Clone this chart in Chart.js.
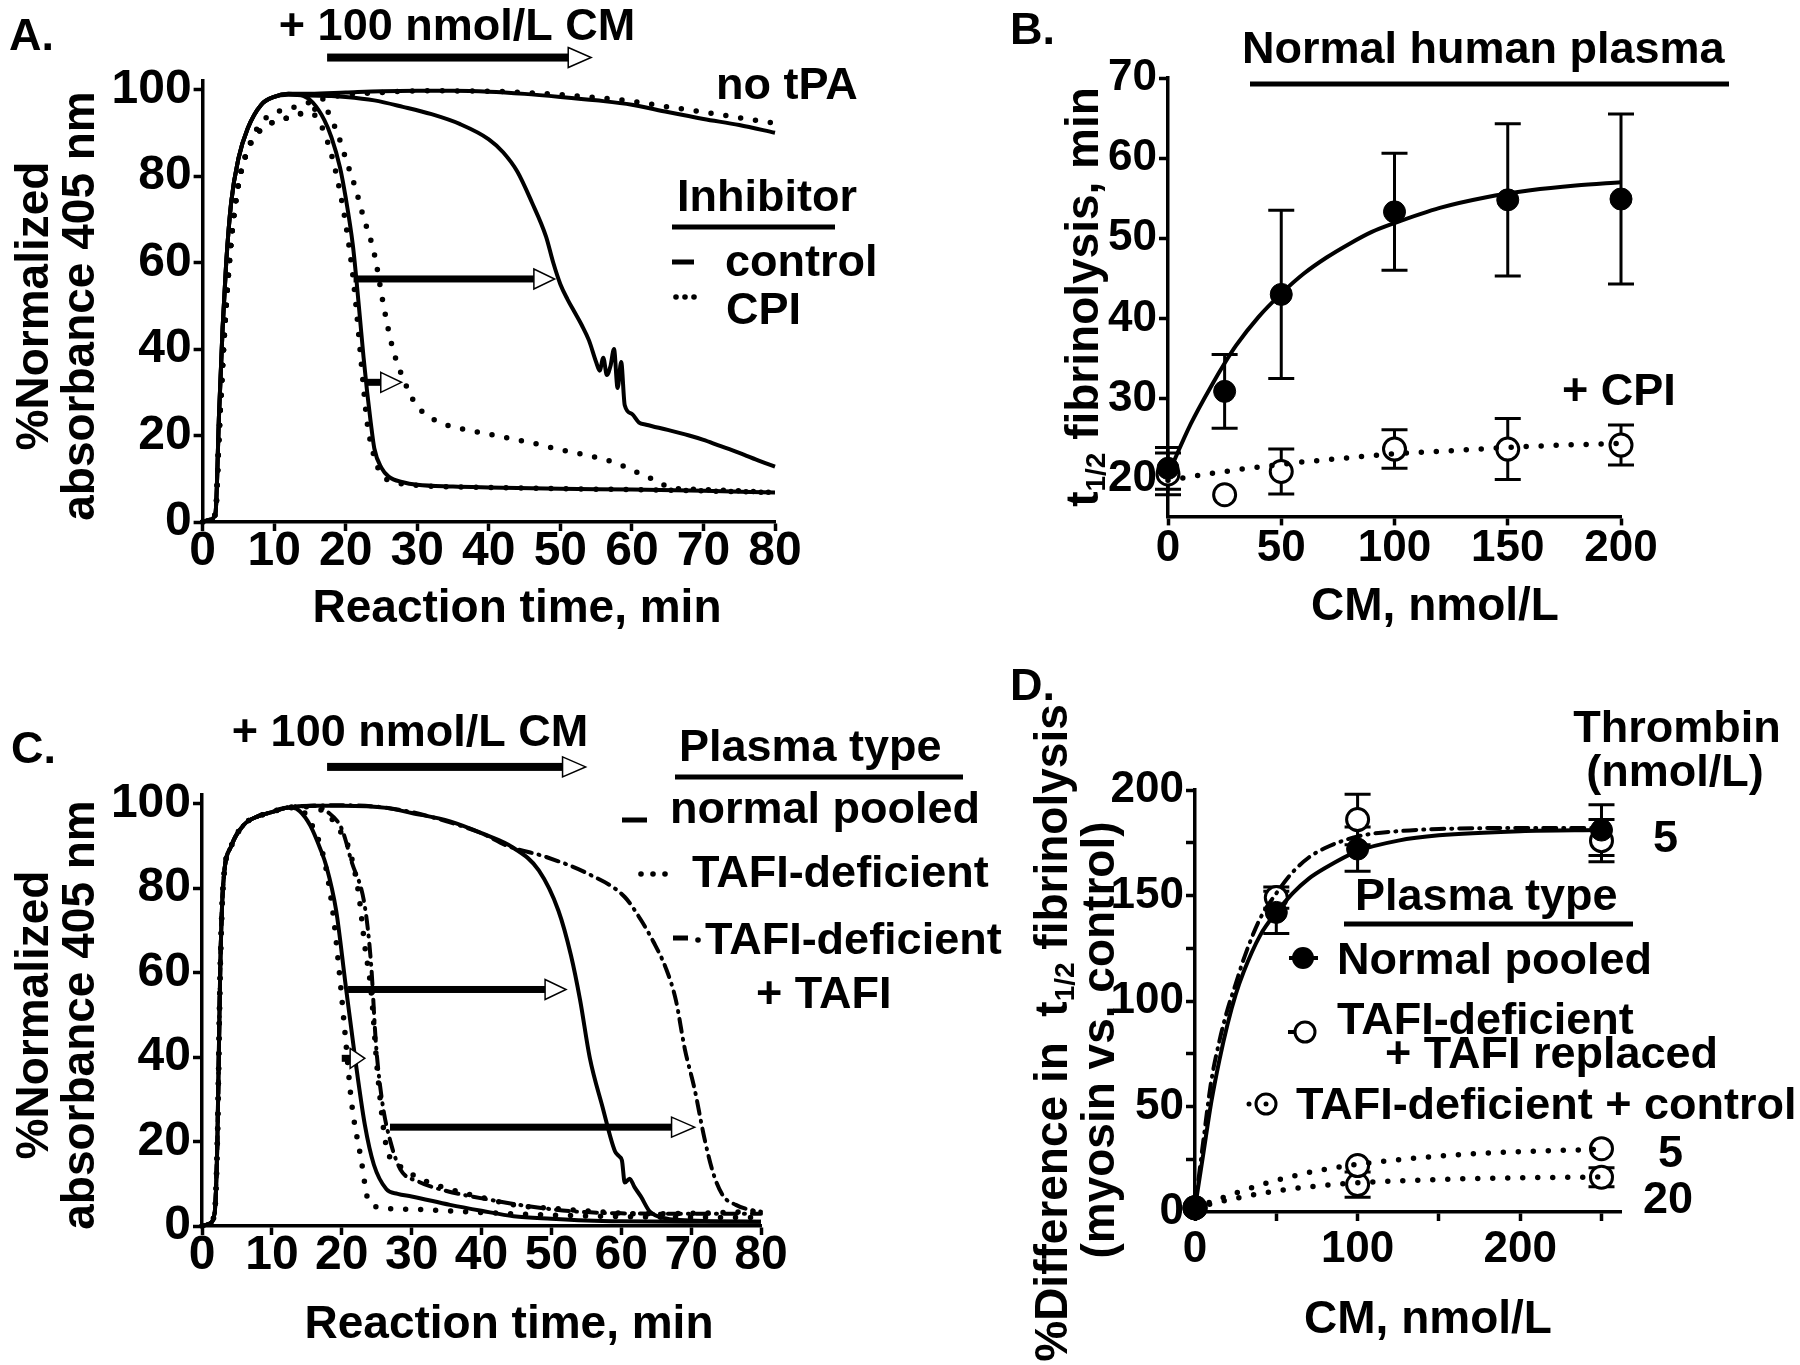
<!DOCTYPE html>
<html>
<head>
<meta charset="utf-8">
<script src="https://cdn.jsdelivr.net/npm/chart.js@4.4.1/dist/chart.umd.min.js"></script>
<style>
  body { margin: 0; background: #fff; }
  #wrap { position: relative; width: 1800px; height: 1365px; background: #fff; }
  #wrap canvas { position: absolute; left: 0; top: 0; }
</style>
</head>
<body>
<div id="wrap">
  <canvas id="chartA" width="1800" height="1365"></canvas>
  <canvas id="chartB" width="1800" height="1365"></canvas>
  <canvas id="chartC" width="1800" height="1365"></canvas>
  <canvas id="chartD" width="1800" height="1365"></canvas>
</div>
<script>
// ---------- Panel A: turbidity curves, normal human plasma ----------
const aTicksX = [0, 10, 20, 30, 40, 50, 60, 70, 80];
const aTicksY = [0, 20, 40, 60, 80, 100];

const aNoTpaCtrlX = [0, 1, 1.8, 2.3, 2.8, 3.3, 4, 5, 6.3, 8.2, 10, 12, 15, 20, 25, 30, 35, 40, 45, 50, 55, 60, 65, 70, 75, 80];
const aNoTpaCtrlY = [0, 0.5, 2, 25, 45, 60, 74, 84, 91, 96.5, 98.3, 99, 99, 99.3, 99.6, 99.7, 99.7, 99.5, 99, 98.3, 97.5, 96.5, 94.8, 93.2, 91.8, 90];
const aNoTpaCpiX = [0, 1, 1.8, 2.3, 3, 4, 5, 6.3, 8, 10, 13, 16, 20, 25, 30, 40, 50, 60, 65, 70, 75, 80];
const aNoTpaCpiY = [0, 0.5, 2, 20, 42, 65, 78, 86, 92, 94.5, 96, 97.5, 98.8, 99.3, 99.7, 99.6, 98.8, 97.3, 96, 94.8, 93.5, 92.2];

const aCtrlX = [0, 1, 1.8, 2.3, 2.8, 3.3, 4, 5, 6.3, 8.2, 10, 12, 14, 15.4, 17, 18, 19.2, 20, 21, 21.5, 22, 22.5, 23, 23.5, 24, 25, 26, 28, 30, 35, 40, 50, 60, 70, 80];
const aCtrlY = [0, 0.5, 2, 25, 45, 60, 74, 84, 91, 96.5, 98.3, 99, 98.6, 97, 93, 89, 82, 75, 64, 56, 47, 38, 30, 23, 17, 12.5, 10.5, 9.2, 8.6, 8.2, 8, 7.7, 7.5, 7.2, 6.8];
const aCpiX = [0, 1, 1.8, 2.3, 3, 4, 5, 6.3, 8.3, 10, 12, 14, 15, 16, 17, 18, 19, 20, 21, 21.5, 22, 22.5, 23, 24, 25, 27, 30, 40, 50, 60, 70, 80];
const aCpiY = [0, 0.5, 2, 20, 42, 65, 78, 86, 91, 92.5, 93.5, 94.5, 94.5, 93.5, 90, 85, 78, 69, 57, 49, 40, 31, 23, 15, 11, 9.2, 8.5, 8, 7.7, 7.5, 7.2, 6.8];

const aCtrlCmX = [0, 1, 1.8, 2.3, 2.8, 3.3, 4, 5, 6.3, 8.2, 10, 12, 15, 18, 20, 24, 28, 32, 36, 40, 42, 44, 46, 48, 49, 50, 51, 52, 53, 54, 55, 55.5, 56, 56.5, 57, 57.5, 58, 58.5, 59, 60, 61, 62, 65, 68, 70, 72, 75, 78, 80];
const aCtrlCmY = [0, 0.5, 2, 25, 45, 60, 74, 84, 91, 96.5, 98.3, 98.8, 98.6, 98.5, 98.3, 97.5, 96, 94.3, 92, 88.5, 85.5, 81, 74, 66, 60, 55, 51.5, 48.5, 45.5, 42, 37, 35, 38, 34, 36, 40, 31, 37, 27, 25, 23, 22.5, 21.3, 20, 19, 17.8, 16, 14, 12.8];
const aCpiCmX = [0, 1, 1.8, 2.3, 3, 4, 5, 6.3, 8.3, 10, 12, 14, 16, 17, 18.7, 20.2, 21.4, 22.4, 24, 25.3, 26.5, 28.1, 29.8, 32, 34, 37, 41, 46, 50, 54, 57.5, 60, 61.6, 63, 64.4, 66, 70, 75, 80];
const aCpiCmY = [0, 0.5, 2, 20, 42, 65, 78, 86, 91, 92.5, 93.5, 94.5, 95.5, 95.5, 90.5, 83, 77, 71, 62, 50, 40.6, 32.9, 27.2, 24, 22.5, 21.3, 20, 18.3, 16.7, 15.3, 13.8, 12, 10.9, 9.8, 8.6, 7.8, 7.5, 7.2, 6.8];

// arrows: [start, head start, tip, y] in data units
const aArrows = [[17.4, 51.1, 54.3, 107.4], [21.1, 46.3, 49.2, 56.2], [22.7, 24.9, 27.8, 32.3]];

// ---------- Panel B: t1/2 vs CM ----------
const bTicksX = [0, 50, 100, 150, 200];
const bTicksY = [20, 30, 40, 50, 60, 70];
const bCM = [0, 25, 50, 100, 150, 200];
const bControl = [21.3, 30.9, 43.0, 53.3, 54.8, 54.9];
const bControlErr = [2.6, 4.6, 10.5, 7.3, 9.5, 10.6];
const bCpi = [20.6, 18.0, 20.9, 23.7, 23.7, 24.2];
const bCpiErr = [2.6, 0, 2.8, 2.4, 3.8, 2.5];
const bFitX = [0, 10, 20, 25, 30, 40, 50, 60, 70, 80, 90, 100, 120, 140, 160, 180, 200];
const bFitControl = [20.5, 26.8, 32.0, 34.4, 36.6, 40.2, 43.1, 45.6, 47.6, 49.3, 50.8, 51.9, 53.8, 55.1, 56.0, 56.6, 57.0];
const bFitCpiX = [0, 25, 50, 75, 100, 125, 150, 175, 200];
const bFitCpi = [19.8, 20.9, 21.8, 22.5, 23.1, 23.5, 23.9, 24.2, 24.4];

// ---------- Panel C: turbidity curves by plasma type ----------
const cTicksX = [0, 10, 20, 30, 40, 50, 60, 70, 80];
const cTicksY = [0, 20, 40, 60, 80, 100];
const cNormCtrlX = [0, 1, 1.8, 2.2, 2.6, 3, 4.2, 6, 8, 10, 12, 13, 14, 15.5, 17, 17.8, 19.2, 20.5, 21.9, 23.3, 24.6, 26.4, 28, 30, 35.5, 40, 44.6, 50, 55, 60, 70, 80];
const cNormCtrlY = [0, 0.5, 3, 20, 60, 80, 90, 95, 97, 98, 99, 99, 98.2, 94.8, 89, 85.2, 74.7, 57.8, 39.9, 24, 14.5, 8.7, 7.6, 7, 5, 3.6, 2.3, 1.7, 1.3, 1.1, 1, 1];
const cNormCmX = [0, 1, 1.8, 2.2, 2.6, 3, 4.2, 6, 8, 10, 12, 16, 20, 26.4, 30, 35.5, 40, 44.6, 48.2, 51, 52.8, 54.1, 55.5, 57.3, 59.1, 59.7, 60.1, 60.5, 61.2, 61.9, 62.8, 64.1, 66.4, 70, 80];
const cNormCmY = [0, 0.5, 3, 20, 60, 80, 90, 95, 97, 98, 99, 99.5, 99.5, 99, 97.8, 95.8, 93, 89.5, 84.2, 74.7, 64.1, 53.6, 39.8, 28.3, 17.7, 16.5, 15.5, 10.3, 11.2, 9.2, 7, 3.4, 1.8, 1.3, 1];
const cTafiCtrlX = [0, 1, 1.8, 2.2, 2.6, 3, 4.2, 6, 8, 10, 12, 13, 14.6, 16, 17.4, 18.7, 19.6, 20.5, 21.4, 22.8, 23.7, 24.6, 26.4, 31, 40, 50, 60, 80];
const cTafiCtrlY = [0, 0.5, 3, 20, 60, 80, 90, 95, 97, 98, 99, 99, 98, 94, 87.4, 74.7, 61, 45.1, 29.3, 15.5, 6.5, 4.8, 4.2, 3.9, 3.2, 2.6, 2.2, 2];
const cTafiCmX = [0, 1, 1.8, 2.2, 2.6, 3, 4.2, 6, 8, 10, 12, 14, 16, 18, 19.2, 21, 22.4, 23.3, 24.2, 25.1, 26.4, 27.8, 31, 35.5, 40, 44.6, 50, 55, 62.8, 70, 80];
const cTafiCmY = [0, 0.5, 3, 20, 60, 80, 90, 95, 97, 98, 99, 99.3, 99, 97.5, 94.8, 89.5, 78.9, 66.3, 55.7, 36.7, 18.7, 15, 11.4, 8.7, 6.8, 5, 4.2, 3.6, 2.9, 3, 3.5];
const cTafiTafiCtrlX = [0, 1, 1.8, 2.2, 2.6, 3, 4.2, 6, 8, 10, 12, 16, 18, 20, 21.4, 23.3, 24.2, 24.9, 25.8, 27, 28.4, 31, 35, 41.9, 47, 53.7, 60, 70, 80];
const cTafiTafiCtrlY = [0, 0.5, 3, 20, 60, 80, 90, 95, 97, 98, 99, 99.5, 98, 94, 86.3, 75.7, 62, 43, 29.3, 19.8, 13.4, 10.5, 8.3, 6, 4.6, 3.4, 3, 2.9, 2.9];
const cTafiTafiCmX = [0, 1, 1.8, 2.2, 2.6, 3, 4.2, 6, 8, 10, 12, 16, 20, 25, 30, 35, 40, 43.7, 49.2, 55.5, 60.5, 62.8, 64.6, 66.4, 67.8, 69.1, 70.5, 71.9, 73.2, 74.6, 76.4, 78, 80];
const cTafiTafiCmY = [0, 0.5, 3, 20, 60, 80, 90, 95, 97, 98, 99, 99.5, 99.6, 99.3, 98, 95.8, 93, 90, 87.4, 83.2, 77.9, 72.5, 67.3, 61, 53.6, 41.9, 32.4, 20.8, 12.3, 7.1, 5, 4, 3.4];
const cArrows = [[17.9, 51.6, 54.9, 108.7], [20.9, 49.1, 52.1, 56.0], [26.9, 67.2, 70.5, 23.4], [20.0, 21.2, 23.3, 39.7]];

// ---------- Panel D: % difference vs CM ----------
const dTicksX = [0, 50, 100, 150, 200, 250];
const dLabelsX = [0, 100, 200];
const dTicksY = [0, 25, 50, 75, 100, 125, 150, 175, 200];
const dLabelsY = [0, 50, 100, 150, 200];
const dCM = [0, 50, 100, 250];
const dNormal = [2, 142, 172, 181];
const dNormalErr = [0, 10, 10.5, 12];
const dReplaced = [2, 149, 186, 176];
const dReplacedErr = [0, 5, 12, 10];
const dCtrlCM = [0, 100, 250];
const dCtrl5 = [2, 22, 30];
const dCtrl20 = [2, 13, 16.5];
const dCtrl20Err = [0, 6, 4.5];
const dFitX = [0, 5, 10, 15, 20, 25, 30, 40, 50, 60, 70, 80, 100, 125, 150, 200, 250];
const dFitNormal = [2, 27, 52, 72, 89, 103, 114, 131, 142, 151, 158, 163, 171, 176, 178.5, 180.5, 181];
const dFitReplaced = [2, 33, 62, 81, 96, 108, 120, 139, 151, 161, 168, 172.5, 178, 180.5, 181.5, 182, 182];
const dFitCtrlX = [0, 25, 50, 75, 100, 150, 200, 250];
const dFitCtrl5 = [2, 9, 15, 19.5, 22.6, 26.5, 28.6, 29.7];
const dFitCtrl20 = [2, 6.5, 10, 12.3, 13.8, 15.4, 16.2, 16.6];

// ---------- helpers ----------
const FONT = "'Liberation Sans', Arial, Helvetica, sans-serif";
Chart.defaults.font.family = FONT;
Chart.defaults.font.weight = 'bold';
Chart.defaults.color = '#000';

const pts = (xs, ys) => xs.map((x, i) => ({ x, y: ys[i] }));

const solid = (data) => ({ data, showLine: true, borderColor: '#000', borderWidth: 4, pointRadius: 0, cubicInterpolationMode: 'monotone', clip: false });
const dotted = (data) => ({ ...solid(data), borderWidth: 5.5, borderDash: [0, 15], borderCapStyle: 'round' });
const dashDot = (data) => ({ ...solid(data), borderWidth: 4, borderDash: [13, 7, 1, 7], borderCapStyle: 'round' });
const filled = (data, errors) => ({ data, errors, showLine: false, pointRadius: 11, pointBackgroundColor: '#000', pointBorderColor: '#000', pointBorderWidth: 1, clip: false });
const open = (data, errors) => ({ data, errors, showLine: false, pointRadius: 11, pointBackgroundColor: '#fff', pointBorderColor: '#000', pointBorderWidth: 3, clip: false });

// dir: 'x' or 'y'; f: tick font size; pad: tick label padding; box: fixed axis box size
function axis(dir, min, max, ticks, labels, f, pad, box) {
  return {
    type: 'linear', min, max,
    border: { color: '#000', width: 3.5 },
    grid: { drawOnChartArea: false, drawTicks: true, tickLength: 9, tickWidth: 3.5, tickColor: '#000' },
    ticks: {
      font: { size: f, weight: 'bold', lineHeight: 1 }, color: '#000', padding: pad,
      autoSkip: false, maxRotation: 0,
      callback: (v) => (labels.includes(v) ? String(v) : '')
    },
    afterBuildTicks: (s) => { s.ticks = ticks.map((v) => ({ value: v })); },
    afterFit: (s) => { if (dir === 'x') s.height = box; else s.width = box; }
  };
}

function txt(ctx, s, x, y, size = 45, align = 'left') {
  ctx.save();
  ctx.font = `bold ${size}px ${FONT}`;
  ctx.fillStyle = '#000';
  ctx.textAlign = align;
  ctx.textBaseline = 'alphabetic';
  ctx.fillText(s, x, y);
  ctx.restore();
}

// rotated title made of runs: [text, size, shift]
function vtext(ctx, runs, cx, cy) {
  ctx.save();
  ctx.translate(cx, cy);
  ctx.rotate(-Math.PI / 2);
  ctx.fillStyle = '#000';
  ctx.textBaseline = 'middle';
  ctx.textAlign = 'left';
  let total = 0;
  runs.forEach(([t, size]) => { ctx.font = `bold ${size}px ${FONT}`; total += ctx.measureText(t).width; });
  let x = -total / 2;
  runs.forEach(([t, size, dy]) => {
    ctx.font = `bold ${size}px ${FONT}`;
    ctx.fillText(t, x, dy || 0);
    x += ctx.measureText(t).width;
  });
  ctx.restore();
}

function hline(ctx, x0, x1, y, w) {
  ctx.save();
  ctx.fillStyle = '#000';
  ctx.fillRect(x0, y - w / 2, x1 - x0, w);
  ctx.restore();
}

function dots(ctx, xs, y, r = 2.8) {
  ctx.save();
  ctx.fillStyle = '#000';
  xs.forEach((x) => { ctx.beginPath(); ctx.arc(x, y, r, 0, Math.PI * 2); ctx.fill(); });
  ctx.restore();
}

function drawArrows(chart, list, thick) {
  const { ctx } = chart;
  const X = chart.scales.x, Y = chart.scales.y;
  list.forEach(([x0, xh, xt, yv]) => {
    const p0 = X.getPixelForValue(x0), ph = X.getPixelForValue(xh), pt = X.getPixelForValue(xt);
    const py = Y.getPixelForValue(yv);
    ctx.save();
    ctx.fillStyle = '#000';
    ctx.fillRect(p0, py - thick / 2, ph - p0 + 1, thick);
    ctx.beginPath();
    ctx.moveTo(ph, py - 10);
    ctx.lineTo(pt, py);
    ctx.lineTo(ph, py + 10);
    ctx.closePath();
    ctx.fillStyle = '#fff';
    ctx.fill();
    ctx.lineWidth = 1.5;
    ctx.strokeStyle = '#000';
    ctx.stroke();
    ctx.restore();
  });
}

const errorBars = {
  id: 'errorBars',
  beforeDatasetsDraw(chart) {
    const { ctx } = chart;
    const Y = chart.scales.y;
    chart.data.datasets.forEach((ds, i) => {
      if (!ds.errors) return;
      chart.getDatasetMeta(i).data.forEach((pt, j) => {
        const e = ds.errors[j];
        if (!e) return;
        const v = ds.data[j].y;
        const top = Y.getPixelForValue(v + e), bot = Y.getPixelForValue(v - e);
        ctx.save();
        ctx.strokeStyle = '#000';
        ctx.lineWidth = 3;
        ctx.beginPath();
        ctx.moveTo(pt.x, top); ctx.lineTo(pt.x, bot);
        ctx.moveTo(pt.x - 13, top); ctx.lineTo(pt.x + 13, top);
        ctx.moveTo(pt.x - 13, bot); ctx.lineTo(pt.x + 13, bot);
        ctx.stroke();
        ctx.restore();
      });
    });
  }
};

function baseOptions(pad, xScale, yScale) {
  return {
    responsive: false,
    animation: false,
    devicePixelRatio: 1,
    events: [],
    layout: { padding: pad },
    plugins: { legend: { display: false }, tooltip: { enabled: false } },
    scales: { x: xScale, y: yScale }
  };
}

// ---------- Chart A ----------
new Chart(document.getElementById('chartA'), {
  type: 'scatter',
  data: {
    datasets: [
      solid(pts(aNoTpaCtrlX, aNoTpaCtrlY)),
      dotted(pts(aNoTpaCpiX, aNoTpaCpiY)),
      solid(pts(aCtrlX, aCtrlY)),
      dotted(pts(aCpiX, aCpiY)),
      solid(pts(aCtrlCmX, aCtrlCmY)),
      dotted(pts(aCpiCmX, aCpiCmY))
    ]
  },
  options: baseOptions(
    { left: 100, right: 1025, top: 80.9, bottom: 763 },
    axis('x', 0, 80, aTicksX, aTicksX, 48, -3, 80),
    axis('y', 0, 102, aTicksY, aTicksY, 48, 2, 102.6)
  ),
  plugins: [{
    id: 'notesA',
    afterDraw(chart) {
      const { ctx } = chart;
      txt(ctx, 'A.', 9, 50);
      txt(ctx, '+ 100 nmol/L CM', 457, 40, 45, 'center');
      txt(ctx, 'no tPA', 716, 99);
      txt(ctx, 'Inhibitor', 677, 211);
      hline(ctx, 672, 835, 227, 5);
      hline(ctx, 672, 694, 262, 5);
      txt(ctx, 'control', 725, 276);
      dots(ctx, [676, 685, 694], 297);
      txt(ctx, 'CPI', 726, 324);
      drawArrows(chart, aArrows.slice(0, 1), 8);
      drawArrows(chart, aArrows.slice(1), 7);
      txt(ctx, 'Reaction time, min', 517, 622, 46, 'center');
      vtext(ctx, [['%Normalized', 46]], 35, 306);
      vtext(ctx, [['absorbance 405 nm', 46]], 81, 306);
    }
  }]
});

// ---------- Chart B ----------
new Chart(document.getElementById('chartB'), {
  type: 'scatter',
  data: {
    datasets: [
      solid(pts(bFitX, bFitControl)),
      dotted(pts(bFitCpiX, bFitCpi)),
      filled(pts(bCM, bControl), bControlErr),
      open(pts(bCM, bCpi), bCpiErr)
    ]
  },
  options: baseOptions(
    { left: 1070, right: 179, top: 78, bottom: 768.6 },
    axis('x', 0, 200, bTicksX, bTicksX, 44, 1, 80),
    axis('y', 15.3, 70, bTicksY, bTicksY, 44, 2, 98)
  ),
  plugins: [errorBars, {
    id: 'notesB',
    afterDraw(chart) {
      const { ctx } = chart;
      txt(ctx, 'B.', 1010, 44);
      txt(ctx, 'Normal human plasma', 1242, 63);
      hline(ctx, 1250, 1729, 84, 5);
      txt(ctx, '+ CPI', 1562, 405);
      txt(ctx, 'CM, nmol/L', 1435, 620, 46, 'center');
      vtext(ctx, [['t', 46], ['1/2', 28, 12], [' fibrinolysis, min', 46]], 1085, 297);
    }
  }]
});

// ---------- Chart C ----------
new Chart(document.getElementById('chartC'), {
  type: 'scatter',
  data: {
    datasets: [
      solid(pts(cNormCtrlX, cNormCtrlY)),
      solid(pts(cNormCmX, cNormCmY)),
      dotted(pts(cTafiCtrlX, cTafiCtrlY)),
      dotted(pts(cTafiCmX, cTafiCmY)),
      dashDot(pts(cTafiTafiCtrlX, cTafiTafiCtrlY)),
      dashDot(pts(cTafiTafiCmX, cTafiTafiCmY))
    ]
  },
  options: baseOptions(
    { left: 100, right: 1039, top: 795.2, bottom: 59 },
    axis('x', 0, 80, cTicksX, cTicksX, 48, -3, 80),
    axis('y', 0, 102, cTicksY, cTicksY, 48, 2, 102)
  ),
  plugins: [{
    id: 'notesC',
    afterDraw(chart) {
      const { ctx } = chart;
      txt(ctx, 'C.', 11, 763);
      txt(ctx, '+ 100 nmol/L CM', 410, 746, 45, 'center');
      txt(ctx, 'Plasma type', 679, 761);
      hline(ctx, 675, 963, 777, 5);
      hline(ctx, 622, 647, 820, 5);
      txt(ctx, 'normal pooled', 670, 823);
      dots(ctx, [641, 653, 665], 874);
      txt(ctx, 'TAFI-deficient', 692, 887);
      hline(ctx, 673, 688, 938, 5);
      dots(ctx, [698], 940);
      txt(ctx, 'TAFI-deficient', 705, 954);
      txt(ctx, '+ TAFI', 756, 1008);
      drawArrows(chart, cArrows.slice(0, 1), 8);
      drawArrows(chart, cArrows.slice(1), 7);
      txt(ctx, 'Reaction time, min', 509, 1338, 46, 'center');
      vtext(ctx, [['%Normalized', 46]], 35, 1015);
      vtext(ctx, [['absorbance 405 nm', 46]], 81, 1015);
    }
  }]
});

// ---------- Chart D ----------
new Chart(document.getElementById('chartD'), {
  type: 'scatter',
  data: {
    datasets: [
      solid(pts(dFitX, dFitNormal)),
      dashDot(pts(dFitX, dFitReplaced)),
      dotted(pts(dFitCtrlX, dFitCtrl5)),
      dotted(pts(dFitCtrlX, dFitCtrl20)),
      filled(pts(dCM, dNormal), dNormalErr),
      open(pts(dCM, dReplaced), dReplacedErr),
      open(pts(dCtrlCM, dCtrl5), null),
      open(pts(dCtrlCM, dCtrl20), dCtrl20Err)
    ]
  },
  options: baseOptions(
    { left: 1100, right: 179, top: 790, bottom: 73 },
    axis('x', 0, 262, dTicksX, dLabelsX, 44, 7, 80),
    axis('y', 0, 200, dTicksY, dLabelsY, 44, 2, 95)
  ),
  plugins: [errorBars, {
    id: 'notesD',
    afterDraw(chart) {
      const { ctx } = chart;
      txt(ctx, 'D.', 1010, 700);
      txt(ctx, 'Thrombin', 1677, 742, 45, 'center');
      txt(ctx, '(nmol/L)', 1675, 786, 45, 'center');
      txt(ctx, '5', 1653, 852);
      txt(ctx, 'Plasma type', 1355, 910);
      hline(ctx, 1344, 1633, 924, 5);
      // legend markers
      hline(ctx, 1289, 1318, 958, 4);
      ctx.save();
      ctx.fillStyle = '#000';
      ctx.beginPath(); ctx.arc(1303, 958, 11, 0, Math.PI * 2); ctx.fill();
      ctx.restore();
      txt(ctx, 'Normal pooled', 1337, 974);
      hline(ctx, 1288, 1296, 1032, 4);
      ctx.save();
      ctx.strokeStyle = '#000'; ctx.fillStyle = '#fff'; ctx.lineWidth = 3;
      ctx.beginPath(); ctx.arc(1305, 1032, 10, 0, Math.PI * 2); ctx.fill(); ctx.stroke();
      ctx.restore();
      txt(ctx, 'TAFI-deficient', 1337, 1034);
      txt(ctx, '+ TAFI replaced', 1385, 1068);
      dots(ctx, [1249], 1104, 2.5);
      ctx.save();
      ctx.strokeStyle = '#000'; ctx.fillStyle = '#fff'; ctx.lineWidth = 3;
      ctx.beginPath(); ctx.arc(1266, 1104, 10, 0, Math.PI * 2); ctx.fill(); ctx.stroke();
      ctx.restore();
      dots(ctx, [1266], 1104, 2.5);
      txt(ctx, 'TAFI-deficient + control', 1296, 1119);
      txt(ctx, '5', 1658, 1167);
      txt(ctx, '20', 1643, 1213);
      txt(ctx, 'CM, nmol/L', 1428, 1333, 46, 'center');
      vtext(ctx, [['%Difference in  t', 46], ['1/2', 28, 12], [' fibrinolysis', 46]], 1054, 1033);
      vtext(ctx, [['(myosin vs. control)', 46]], 1101, 1040);
    }
  }]
});
</script>
</body>
</html>
